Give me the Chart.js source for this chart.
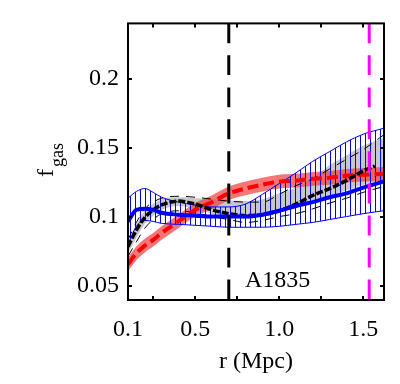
<!DOCTYPE html>
<html>
<head>
<meta charset="utf-8">
<script src="https://cdn.jsdelivr.net/npm/chart.js@4.4.0/dist/chart.umd.min.js"></script>
<style>
  html, body { margin: 0; padding: 0; background: #fff; }
  #wrap { width: 400px; height: 384px; }
</style>
</head>
<body>
<div id="wrap"><canvas id="fgas" width="400" height="384"></canvas></div>
<script>
// radius grid (Mpc)
const r = [0.1, 0.15, 0.2, 0.25, 0.3, 0.4, 0.5, 0.6, 0.7, 0.8, 0.9, 1.0, 1.1, 1.2, 1.3, 1.4, 1.5, 1.62];
const rBlack = [0.1, 0.15, 0.2, 0.25, 0.3, 0.4, 0.5, 0.6, 0.7, 0.8, 0.9, 1.0, 1.1, 1.2, 1.3, 1.4, 1.5, 1.57];

// blue profile + hatched band
const blueMid   = [0.0968, 0.1052, 0.1059, 0.1052, 0.1031, 0.1017, 0.1010, 0.1003, 0.1003, 0.1003, 0.1017, 0.1045, 0.1080, 0.1108, 0.1143, 0.1171, 0.1213, 0.1256];
const blueUpper = [0.1136, 0.1185, 0.1206, 0.1178, 0.1143, 0.1108, 0.1087, 0.1073, 0.1073, 0.1094, 0.1164, 0.1242, 0.1319, 0.1403, 0.1473, 0.1543, 0.1599, 0.1641];
const blueLower = [0.0800, 0.0933, 0.0975, 0.0968, 0.0954, 0.0947, 0.0940, 0.0933, 0.0926, 0.0926, 0.0926, 0.0933, 0.0947, 0.0961, 0.0982, 0.1003, 0.1024, 0.1045];

// black dashed profile + grey band + thin bounds
const blackMid  = [0.0786, 0.0905, 0.0996, 0.1052, 0.1087, 0.1115, 0.1094, 0.1052, 0.1024, 0.1010, 0.1017, 0.1045, 0.1094, 0.1157, 0.1206, 0.1263, 0.1333, 0.1368];
const greyUpper = [0.0821, 0.0947, 0.1045, 0.1094, 0.1129, 0.1143, 0.1136, 0.1129, 0.1122, 0.1115, 0.1129, 0.1171, 0.1213, 0.1284, 0.1375, 0.1445, 0.1515, 0.1571];
const greyLower = [0.0737, 0.0849, 0.0947, 0.1010, 0.1052, 0.1080, 0.1059, 0.1024, 0.1003, 0.0989, 0.1003, 0.1031, 0.1073, 0.1115, 0.1157, 0.1192, 0.1234, 0.1263];
const thinUpper = [0.0835, 0.0961, 0.1059, 0.1108, 0.1136, 0.1150, 0.1143, 0.1129, 0.1115, 0.1108, 0.1108, 0.1164, 0.1227, 0.1277, 0.1347, 0.1417, 0.1487, 0.1592];
const thinLower = [0.0716, 0.0821, 0.0919, 0.0982, 0.1024, 0.1045, 0.1031, 0.1003, 0.0982, 0.0961, 0.0975, 0.1003, 0.1024, 0.1059, 0.1101, 0.1136, 0.1178, 0.1220];

// red dashed profile + band
const redMid    = [0.0659, 0.0737, 0.0793, 0.0835, 0.0884, 0.0968, 0.1052, 0.1108, 0.1171, 0.1206, 0.1234, 0.1256, 0.1263, 0.1277, 0.1284, 0.1298, 0.1305, 0.1312];
const redUpper  = [0.0709, 0.0786, 0.0842, 0.0884, 0.0933, 0.1017, 0.1101, 0.1157, 0.1220, 0.1256, 0.1284, 0.1305, 0.1312, 0.1326, 0.1333, 0.1347, 0.1354, 0.1361];
const redLower  = [0.0610, 0.0688, 0.0744, 0.0786, 0.0835, 0.0919, 0.1003, 0.1059, 0.1122, 0.1157, 0.1185, 0.1206, 0.1213, 0.1227, 0.1234, 0.1249, 0.1256, 0.1263];

// vertical markers and axis ticks
const rCool = 0.7;      // black dashed
const rVir = 1.536;     // magenta dashed
const xTicks = [0.1, 0.25, 0.5, 0.75, 1.0, 1.25, 1.5];
const xLabels = ['0.1', '0.5', '1.0', '1.5'];
const yTicks = [0.05, 0.1, 0.15, 0.2];
const clusterName = 'A1835';
const clusterPos = [0.796, 0.0491];

const serif = '"Liberation Serif", "Times New Roman", serif';
const pts = (xs, ys) => xs.map((v, i) => ({ x: v, y: ys[i] }));

// vertical hatch pattern for the blue band
const pc = document.createElement('canvas');
pc.width = 5; pc.height = 4;
const pctx = pc.getContext('2d');
pctx.fillStyle = '#0000ff';
pctx.fillRect(0, 0, 1, 4);
const hatch = pctx.createPattern(pc, 'repeat');

const framePlugin = {
    id: 'frame',
    afterDraw(chart) {
        const { ctx, chartArea: a, scales: { x, y } } = chart;
        ctx.save();
        ctx.strokeStyle = '#000';
        ctx.lineWidth = 2;
        ctx.strokeRect(a.left, a.top, a.right - a.left, a.bottom - a.top);
        ctx.beginPath();
        xTicks.forEach(v => {
            const px = Math.round(x.getPixelForValue(v));
            ctx.moveTo(px, a.bottom); ctx.lineTo(px, a.bottom - 4);
            ctx.moveTo(px, a.top); ctx.lineTo(px, a.top + 4);
        });
        yTicks.forEach(v => {
            const py = Math.round(y.getPixelForValue(v));
            ctx.moveTo(a.left, py); ctx.lineTo(a.left + 4, py);
            ctx.moveTo(a.right, py); ctx.lineTo(a.right - 4, py);
        });
        ctx.stroke();

        ctx.fillStyle = '#000';
        ctx.textBaseline = 'alphabetic';
        ctx.font = '24px ' + serif;
        ctx.textAlign = 'left';
        ctx.fillText(clusterName, x.getPixelForValue(clusterPos[0]), y.getPixelForValue(clusterPos[1]));

        // x title
        ctx.textAlign = 'center';
        ctx.fillText('r (Mpc)', (a.left + a.right) / 2, 368);

        // y title with subscript
        ctx.translate(53, 177);
        ctx.rotate(-Math.PI / 2);
        ctx.textAlign = 'left';
        ctx.font = '24px ' + serif;
        ctx.fillText('f', 0, 0);
        const fw = ctx.measureText('f').width;
        ctx.font = '18px ' + serif;
        ctx.fillText('gas', fw + 2, 10);
        ctx.restore();
    }
};

new Chart(document.getElementById('fgas'), {
    type: 'line',
    data: {
        datasets: [
            { data: pts(r, redUpper), borderWidth: 0, pointRadius: 0, fill: '+1', backgroundColor: 'rgba(240,60,60,0.7)', order: 9 },
            { data: pts(r, redLower), borderWidth: 0, pointRadius: 0, fill: false, order: 9 },
            { data: pts(r, greyUpper), borderWidth: 0, pointRadius: 0, fill: '+1', backgroundColor: '#c8c8c8', order: 10 },
            { data: pts(r, greyLower), borderWidth: 0, pointRadius: 0, fill: false, order: 10 },
            { data: pts(r, blueUpper), borderColor: '#0000ff', borderWidth: 1, pointRadius: 0, fill: '+1', backgroundColor: hatch, order: 8 },
            { data: pts(r, blueLower), borderColor: '#0000ff', borderWidth: 1, pointRadius: 0, fill: false, order: 8 },
            { data: pts(r, thinUpper), borderColor: '#000', borderWidth: 1, borderDash: [9, 7], pointRadius: 0, fill: false, order: 7 },
            { data: pts(r, thinLower), borderColor: '#000', borderWidth: 1, borderDash: [9, 7], pointRadius: 0, fill: false, order: 7 },
            { data: pts(r, redMid), borderColor: '#ff0000', borderWidth: 4, borderDash: [11, 5], pointRadius: 0, fill: false, order: 6 },
            { data: pts(rBlack, blackMid), borderColor: '#000', borderWidth: 3.5, borderDash: [7, 2], pointRadius: 0, fill: false, order: 5 },
            { data: pts(r, blueMid), borderColor: '#0000ff', borderWidth: 4, pointRadius: 0, fill: false, order: 4 },
            { data: [{ x: rCool, y: 0.24 }, { x: rCool, y: 0.04 }], borderColor: '#000', borderWidth: 3, borderDash: [20, 12], pointRadius: 0, fill: false, tension: 0, order: 3 },
            { data: [{ x: rVir, y: 0.24 }, { x: rVir, y: 0.04 }], borderColor: '#ff00ff', borderWidth: 3, borderDash: [20, 12], pointRadius: 0, fill: false, tension: 0, order: 2 }
        ]
    },
    options: {
        responsive: false,
        animation: false,
        cubicInterpolationMode: 'monotone',
        layout: { padding: { left: 0, right: 16, top: 15, bottom: 0 } },
        plugins: { legend: { display: false }, tooltip: { enabled: false } },
        scales: {
            x: {
                type: 'linear',
                min: 0.1,
                max: 1.624,
                afterFit: s => { s.height = 84; },
                afterBuildTicks: s => { s.ticks = xTicks.map(v => ({ value: v })); },
                grid: { display: false, drawTicks: false },
                border: { display: false },
                ticks: {
                    autoSkip: false,
                    maxRotation: 0,
                    padding: 15,
                    color: '#000',
                    font: { family: serif, size: 24 },
                    callback: v => {
                        const s = v.toFixed(1);
                        return xLabels.includes(s) ? s : '';
                    }
                }
            },
            y: {
                type: 'linear',
                min: 0.04,
                max: 0.24,
                afterFit: s => { s.width = 128; },
                afterBuildTicks: s => { s.ticks = yTicks.map(v => ({ value: v })); },
                grid: { display: false, drawTicks: false },
                border: { display: false },
                ticks: {
                    padding: 9,
                    color: '#000',
                    font: { family: serif, size: 24 },
                    callback: v => String(+v.toFixed(2))
                }
            }
        }
    },
    plugins: [framePlugin]
});
</script>
</body>
</html>
